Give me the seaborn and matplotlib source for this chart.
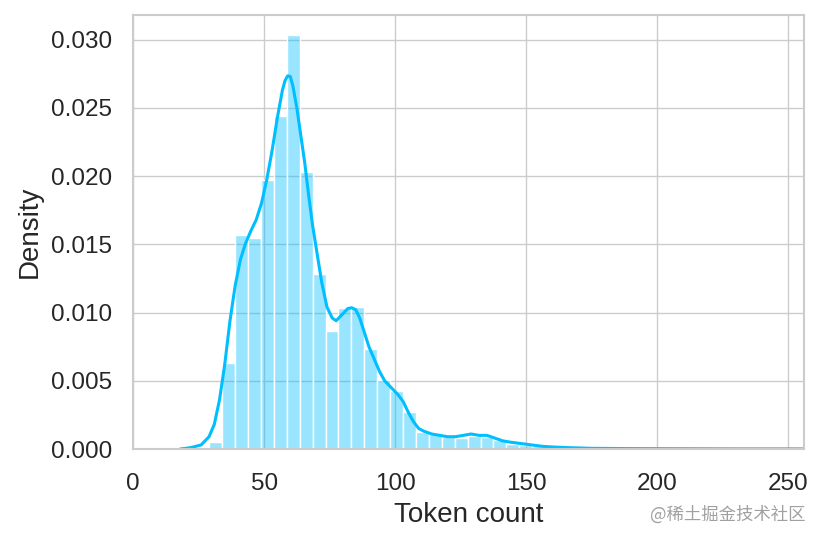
import numpy as np
import pandas as pd
import matplotlib
matplotlib.use("Agg")
import matplotlib.pyplot as plt
import seaborn as sns

# histogram (density): 46 equal bins between these edges
bin_lo, bin_hi, n_bins = 29.1, 255.8, 46
bar_heights = [
    0.00053, 0.00627, 0.01571, 0.01546, 0.01968, 0.02439, 0.03034, 0.02029,
    0.01285, 0.00863, 0.01030, 0.01041, 0.00730, 0.00505, 0.00424, 0.00273,
    0.00127, 0.00110, 0.00090, 0.00080, 0.00095, 0.00090, 0.00066, 0.00040,
    0.00030, 0.00020, 0.00012, 0.00008, 0.00005, 0.00004, 0.00003, 0.00002,
    0.00002, 0.00001, 0.00001, 0.00001, 0.00001, 0.00001, 0.00000, 0.00000,
    0.00000, 0.00000, 0.00000, 0.00000, 0.00000, 0.00001,
]

# kde curve
kde_x = [18, 22, 26, 29, 31, 33, 35, 37, 39, 41, 43, 45, 47, 49, 51, 53, 55, 57,
         58, 59, 60, 61, 62.5, 64, 65.5, 67, 68.5, 70, 72, 74, 76, 77.5, 79,
         80.5, 82, 83.5, 85, 86.5, 88, 90, 92, 94, 96, 98.5, 101, 103, 105, 107,
         109, 111, 114, 117, 120, 123, 126, 129, 132, 135, 138, 141, 144, 148,
         152, 156, 160, 166, 175, 190, 210, 230, 256]
kde_y = [0.0000, 0.0001, 0.0003, 0.0009, 0.0018, 0.0036, 0.0062, 0.0094, 0.0120,
         0.0139, 0.0151, 0.0160, 0.0168, 0.0180, 0.0197, 0.0218, 0.0242, 0.0263,
         0.0270, 0.02735, 0.0273, 0.0266, 0.0250, 0.0230, 0.0210, 0.0186, 0.0164,
         0.0146, 0.0122, 0.0104, 0.0096, 0.0094, 0.0097, 0.0100, 0.0103, 0.01035,
         0.0102, 0.0096, 0.0087, 0.0075, 0.0066, 0.0057, 0.0050, 0.0045, 0.0040,
         0.0035, 0.0027, 0.0020, 0.0015, 0.0013, 0.0011, 0.0010, 0.0009, 0.0009,
         0.0010, 0.0011, 0.0010, 0.0010, 0.0008, 0.0006, 0.0005, 0.0004, 0.0003,
         0.0002, 0.00015, 0.0001, 0.00005, 0.00003, 0.00002, 0.00001, 0.00001]

sns.set_theme(style="whitegrid")
plt.rcParams['font.family'] = ['Liberation Sans', 'DejaVu Sans']
plt.rcParams['axes.edgecolor'] = '#cccccc'
plt.rcParams['grid.color'] = '#cccccc'

BLUE = '#00BFFF'

edges = np.linspace(bin_lo, bin_hi, n_bins + 1)
hist_df = pd.DataFrame({'x': (edges[:-1] + edges[1:]) / 2, 'h': bar_heights})

fig = plt.figure(figsize=(8.23, 5.40), dpi=100)
ax = fig.add_axes([0.1616, 0.1685, 0.8154, 0.8035])

sns.histplot(data=hist_df, x='x', weights='h', bins=edges.tolist(), stat='count',
             color=BLUE, alpha=0.4, edgecolor='white', linewidth=1, ax=ax)
sns.lineplot(x=kde_x, y=kde_y, color=BLUE, linewidth=2.2, ax=ax)

ax.set_xlim(0, 256)
ax.set_ylim(0, 0.0318)
ax.set_yticks(np.arange(0, 0.0301, 0.005))
ax.yaxis.set_major_formatter(matplotlib.ticker.FormatStrFormatter('%.3f'))
ax.set_xticks([0, 50, 100, 150, 200, 250])
ax.tick_params(axis='y', labelsize=17.5, colors='#262626', pad=9)
ax.tick_params(axis='x', labelsize=17.5, colors='#262626', pad=11)
for s in ax.spines.values():
    s.set_linewidth(1.5)
ax.set_xlabel('Token count', fontsize=20, color='#262626', labelpad=5)
ax.set_ylabel('Density', fontsize=20, color='#262626', labelpad=6)

fig.text(0.979, 0.031, '@稀土掘金技术社区', ha='right', va='bottom', fontsize=12.5,
         color='#a0a0a0', family=['Noto Sans CJK SC', 'DejaVu Sans'])

fig.savefig('out.png', dpi=100)
